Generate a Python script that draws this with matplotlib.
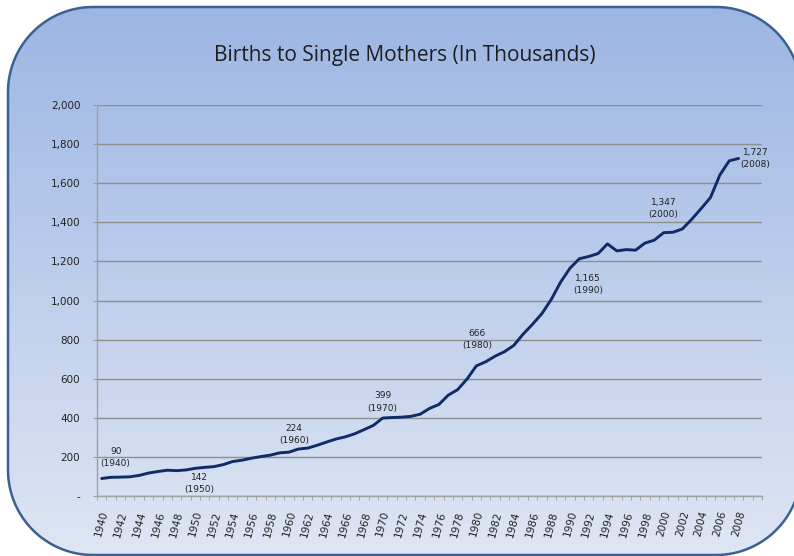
import numpy as np
import matplotlib
matplotlib.use("Agg")
import matplotlib.pyplot as plt
from matplotlib.path import Path
from matplotlib.patches import PathPatch
from matplotlib.ticker import FuncFormatter

# births to unmarried mothers, thousands, 1940-2008
years = list(range(1940, 2009))
births = [89.5, 95.7, 96.5, 98.1, 105.2, 117.4, 125.2, 131.9, 129.7, 133.2,
          141.6, 146.5, 150.3, 160.8, 176.6, 183.3, 193.5, 201.7, 208.7, 220.6,
          224.3, 240.2, 245.1, 259.4, 275.7, 291.2, 302.4, 318.1, 339.2, 360.8,
          398.7, 401.4, 403.2, 407.3, 418.1, 447.9, 468.1, 515.7, 543.9, 597.8,
          665.7, 686.6, 715.2, 737.9, 770.4, 828.2, 878.5, 933.0, 1005.3, 1094.2,
          1165.4, 1213.8, 1225.0, 1240.2, 1289.6, 1253.9, 1260.3, 1257.4, 1293.6, 1308.6,
          1347.0, 1349.2, 1365.9, 1415.8, 1470.2, 1527.0, 1641.9, 1714.6, 1726.6]
n_slots = 71  # axis has room for 1940-2010

# labelled points: year, text offset in pixels
callouts = [(1940, 14, 21), (1950, 4, -15), (1960, 5, 18), (1970, 0, 16),
            (1980, 1, 26), (1990, 18, -16), (2000, 0, 24), (2008, 17, 0)]

W, H = 794, 556


def rounded_rect(x0, y0, x1, y1, r):
    # counter-clockwise, corners as quarter arcs
    verts = []
    corners = [((x1 - r, y0 + r), 270, 360), ((x1 - r, y1 - r), 0, 90),
               ((x0 + r, y1 - r), 90, 180), ((x0 + r, y0 + r), 180, 270)]
    for (cx, cy), a0, a1 in corners:
        ang = np.radians(np.linspace(a0, a1, 30))
        verts += list(zip(cx + r * np.cos(ang), cy + r * np.sin(ang)))
    return np.array(verts)


fig = plt.figure(figsize=(W / 100, H / 100), dpi=100)
fig.patch.set_facecolor("white")

# rounded gradient panel behind everything
bg = fig.add_axes([0, 0, 1, 1], zorder=0)
top = np.array([155, 181, 227]) / 255
bot = np.array([223, 230, 244]) / 255
t = np.linspace(0, 1, 256)[:, None]
grad = (top * (1 - t) + bot * t)[:, None, :]
bg.imshow(grad, extent=[0, W, 0, H], origin="upper", aspect="auto", zorder=1)
bg.set_xlim(0, W)
bg.set_ylim(0, H)
bg.axis("off")

inner = rounded_rect(8, 1, 801, H - 7, 85)
outer = np.array([[-20, -20], [-20, H + 20], [W + 20, H + 20], [W + 20, -20]])
# white mask around the panel (outer clockwise, inner ccw -> hole)
mverts = np.vstack([outer, outer[:1], inner, inner[:1]])
mcodes = ([Path.MOVETO] + [Path.LINETO] * 3 + [Path.CLOSEPOLY] +
          [Path.MOVETO] + [Path.LINETO] * (len(inner) - 1) + [Path.CLOSEPOLY])
bg.add_patch(PathPatch(Path(mverts, mcodes), facecolor="white", edgecolor="none", zorder=2))
ipath = Path(np.vstack([inner, inner[:1]]),
             [Path.MOVETO] + [Path.LINETO] * (len(inner) - 1) + [Path.CLOSEPOLY])
bg.add_patch(PathPatch(ipath, facecolor="none", edgecolor="#3b6190", linewidth=1.8, zorder=3))

ax = fig.add_axes([97 / W, 1 - 496 / H, (762 - 97) / W, (496 - 105) / H], zorder=1)
ax.set_facecolor("none")

x = np.arange(len(years))
ax.plot(x, births, color="#112a68", linewidth=2.1, solid_capstyle="round", zorder=3)

ax.set_xlim(-0.5, n_slots - 0.5)
ax.set_ylim(0, 2000)
ax.set_yticks(np.arange(0, 2001, 200))
ax.yaxis.set_major_formatter(FuncFormatter(lambda v, p: "-" if v == 0 else f"{int(v):,}"))
ax.grid(axis="y", color="#8f8f8f", linewidth=1.0)
ax.set_axisbelow(True)

ax.set_xticks(x[::2])
ax.set_xticklabels([str(y) for y in years[::2]], rotation=75, ha="center", va="top")
ax.set_xticks(np.arange(-0.5, n_slots, 1), minor=True)
ax.tick_params(axis="x", which="major", length=0, pad=10, labelsize=7.5, labelcolor="#222222")
ax.tick_params(axis="x", which="minor", length=3, color="#9a9a9a", direction="out")
ax.tick_params(axis="y", length=3, color="#9a9a9a", pad=9, labelsize=7.5, labelcolor="#222222")

for s in ["top", "right"]:
    ax.spines[s].set_visible(False)
for s in ["left", "bottom"]:
    ax.spines[s].set_color("#a0a0a0")
    ax.spines[s].set_linewidth(1.0)

for yr, dx, dy in callouts:
    i = years.index(yr)
    ax.annotate(f"{round(births[i]):,}\n({yr})", (x[i], births[i]),
                xytext=(dx, dy), textcoords="offset pixels",
                ha="center", va="center", fontsize=6.5, color="#222222",
                linespacing=1.45)

fig.text(405 / W, 1 - 56 / H, "Births to Single Mothers (In Thousands)",
         ha="center", va="center", fontsize=15, family="Open Sans", color="#1e1e1e")

fig.savefig("out.png", dpi=100)
